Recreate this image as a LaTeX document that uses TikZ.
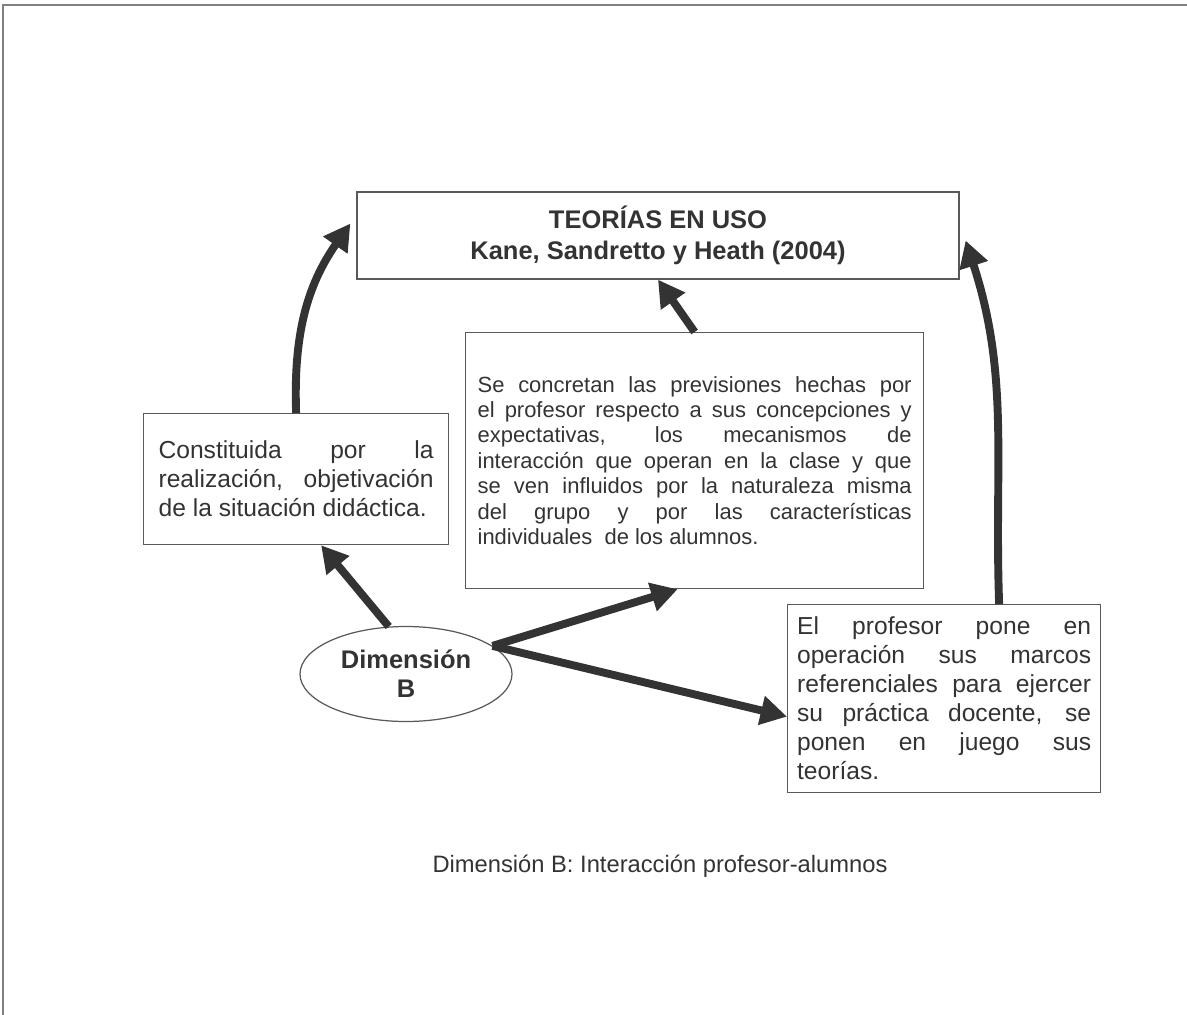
\documentclass[tikz,border=0pt]{standalone}
\usepackage{fontspec}
\setsansfont{Liberation Sans}
\usetikzlibrary{shapes}
\usetikzlibrary{arrows.meta}
\definecolor{inkgray}{HTML}{333333}
\definecolor{boxgray}{HTML}{595959}

\begin{document}
\begin{tikzpicture}[x = 0.2mm, y = -0.2mm, font = \sffamily]
	\tikzstyle{boxStyle} = [draw = boxgray, line width = 0.7pt, text = inkgray, inner ysep = 0pt]
	\tikzstyle{textStyle} = [boxStyle, anchor = north west, align = justify, execute at begin node = {\tolerance = 10000 \hyphenpenalty = 10000}]
	\tikzstyle{arrowStyle} = [draw = inkgray, line width = 4.5pt, -{Triangle[length = 15pt, width = 16pt]}]
	\useasboundingbox (0, 0) rectangle (1187, 1015);
	\draw[gray, line width = 1pt] (3, 1015) -- (3, 5) -- (1187, 5);
	% boxes
	\node[boxStyle, align = center, minimum width = 120.4mm, minimum height = 17.4mm, font = \sffamily\bfseries\fontsize{14.5}{17.6}\selectfont] (tbox) at (658, 235.5) {TEORÍAS EN USO\\Kane, Sandretto y Heath (2004)};
	\node[textStyle, minimum width = 61mm, minimum height = 26.2mm, text width = 55mm, inner xsep = 2.8mm, font = \sffamily\fontsize{14}{16.5}\selectfont] (lbox) at (143, 413) {Constituida por la\linebreak realización, objetivación\linebreak de la situación didáctica.};
	\node[textStyle, minimum width = 91.6mm, minimum height = 51.2mm, text width = 86.8mm, inner xsep = 2.4mm, font = \sffamily\fontsize{12.5}{14.5}\selectfont] (mbox) at (465, 332) {Se concretan las previsiones hechas por\linebreak el profesor respecto a sus concepciones y\linebreak expectativas, los mecanismos de\linebreak interacción que operan en la clase y que\linebreak se ven influidos por la naturaleza misma\linebreak del grupo y por las características\linebreak individuales\ \ de los alumnos.};
	\node[textStyle, minimum width = 62.6mm, minimum height = 37.6mm, text width = 58.8mm, inner xsep = 1.8mm, font = \sffamily\fontsize{14}{16.5}\selectfont] (rbox) at (787, 604) {El profesor pone en\linebreak operación sus marcos\linebreak referenciales para ejercer\linebreak su práctica docente, se\linebreak ponen en juego sus\linebreak teorías.};
	\node[boxStyle, shape = ellipse, inner sep = 0pt, minimum width = 42.4mm, minimum height = 19mm, align = center, font = \sffamily\bfseries\fontsize{14.5}{16.5}\selectfont] (ell) at (406, 674) {Dimensión\\B};
	\node[text = inkgray, font = \sffamily\fontsize{13.5}{16}\selectfont] (caption) at (660, 866) {Dimensión B: Interacción profesor-alumnos};
	% arrows
	\draw[arrowStyle] (lbox.north) to[out = 92, in = 235] ([shift = {(-6, -12)}]tbox.west);
	\draw[arrowStyle] (mbox.north) -- (tbox.south);
	\draw[arrowStyle] ([xshift = 11mm]rbox.north) to[out = 92, in = -72] ([shift = {(6, 5)}]tbox.east);
	\draw[arrowStyle] (ell.110) -- ([xshift = 5mm]lbox.south);
	\draw[arrowStyle] (ell.18) -- ([xshift = -3.4mm]mbox.south);
	\draw[arrowStyle] (ell.18) -- ([yshift = -3.6mm]rbox.west);
\end{tikzpicture}
\end{document}
